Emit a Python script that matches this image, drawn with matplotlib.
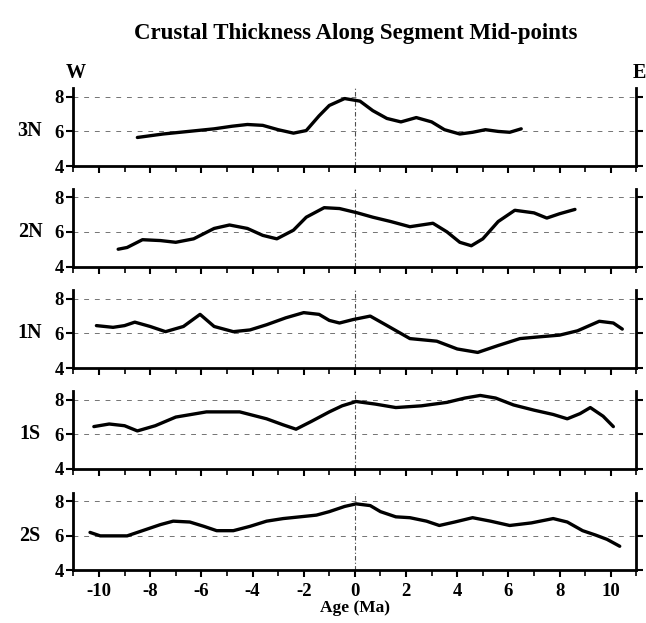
import matplotlib.pyplot as plt
from matplotlib.ticker import MultipleLocator

plt.rcParams['font.family'] = ['Liberation Serif', 'DejaVu Serif']
plt.rcParams['font.weight'] = 'bold'
plt.rcParams['axes.unicode_minus'] = False

# -----------------------------
# DATA (age in Ma, crustal thickness in km)
# -----------------------------
segments = ['3N', '2N', '1N', '1S', '2S']

age_3n = [-8.5, -7.5, -6.5, -5.5, -4.8, -4.2, -3.6, -3.0, -2.4, -1.9, -1.4, -1.0, -0.4, 0.2, 0.7,
          1.25, 1.8, 2.4, 3.0, 3.5, 4.1, 4.6, 5.1, 5.6, 6.05, 6.5]
thk_3n = [5.65, 5.85, 6.0, 6.15, 6.3, 6.4, 6.35, 6.1, 5.9, 6.05, 6.9, 7.5, 7.9, 7.75, 7.2,
          6.75, 6.55, 6.8, 6.55, 6.1, 5.85, 5.95, 6.1, 6.0, 5.95, 6.15]

age_2n = [-9.25, -8.9, -8.3, -7.6, -7.0, -6.3, -5.5, -4.9, -4.2, -3.6, -3.05, -2.4, -1.9, -1.2,
          -0.6, 0.1, 0.7, 1.4, 2.15, 3.05, 3.6, 4.1, 4.55, 5.0, 5.6, 6.25, 7.0, 7.5, 8.0, 8.6]
thk_2n = [5.0, 5.1, 5.55, 5.5, 5.4, 5.6, 6.2, 6.4, 6.2, 5.8, 5.6, 6.1, 6.85, 7.4,
          7.35, 7.1, 6.85, 6.6, 6.3, 6.5, 6.0, 5.4, 5.2, 5.6, 6.6, 7.25, 7.1, 6.8, 7.05, 7.3]

age_1n = [-10.1, -9.45, -9.0, -8.6, -8.0, -7.4, -6.7, -6.05, -5.5, -4.75, -4.1, -3.45, -2.7, -2.0,
          -1.4, -1.0, -0.6, -0.07, 0.6, 1.2, 2.15, 3.2, 4.0, 4.8, 5.6, 6.45, 7.2, 8.0, 8.7, 9.55,
          10.1, 10.45]
thk_1n = [6.45, 6.35, 6.45, 6.65, 6.4, 6.1, 6.4, 7.1, 6.4, 6.1, 6.2, 6.5, 6.9, 7.2,
          7.1, 6.75, 6.6, 6.8, 7.0, 6.5, 5.7, 5.55, 5.1, 4.9, 5.3, 5.7, 5.8, 5.9, 6.15, 6.7,
          6.6, 6.25]

age_1s = [-10.2, -9.6, -9.0, -8.5, -7.8, -7.0, -5.8, -4.5, -3.45, -2.8, -2.3, -1.7, -1.0, -0.5,
          0.05, 0.8, 1.6, 2.6, 3.6, 4.3, 4.9, 5.5, 6.2, 7.0, 7.75, 8.3, 8.8, 9.2, 9.7, 10.1]
thk_1s = [6.45, 6.6, 6.5, 6.2, 6.5, 7.0, 7.3, 7.3, 6.9, 6.55, 6.3, 6.75, 7.3, 7.65,
          7.9, 7.75, 7.55, 7.65, 7.85, 8.1, 8.25, 8.1, 7.7, 7.4, 7.15, 6.9, 7.2, 7.55, 7.05, 6.45]

age_2s = [-10.35, -9.95, -8.9, -8.3, -7.6, -7.1, -6.45, -5.9, -5.4, -4.75, -4.1, -3.45, -2.8,
          -2.15, -1.5, -1.0, -0.4, 0.05, 0.6, 1.0, 1.6, 2.15, 2.8, 3.3, 3.9, 4.6, 5.3, 6.05,
          6.9, 7.75, 8.3, 8.9, 9.4, 9.85, 10.35]
thk_2s = [6.2, 6.0, 6.0, 6.3, 6.65, 6.85, 6.8, 6.55, 6.3, 6.3, 6.55, 6.85, 7.0,
          7.1, 7.2, 7.4, 7.7, 7.85, 7.75, 7.4, 7.1, 7.05, 6.85, 6.6, 6.8, 7.05, 6.85, 6.6,
          6.75, 7.0, 6.8, 6.3, 6.05, 5.8, 5.4]

ages = [age_3n, age_2n, age_1n, age_1s, age_2s]
thks = [thk_3n, thk_2n, thk_1n, thk_1s, thk_2s]

yticks = [4, 6, 8]
xticks = [-10, -8, -6, -4, -2, 0, 2, 4, 6, 8, 10]

# -----------------------------
# FIGURE
# -----------------------------
fig = plt.figure(figsize=(6.46, 6.23), dpi=100)

bottoms = [0.7335, 0.5722, 0.4093, 0.2472, 0.0843]
for i, seg in enumerate(segments):
    ax = fig.add_axes([0.1136, bottoms[i], 0.8715, 0.125])
    ax.set_xlim(-11, 11)
    ax.set_ylim(4, 8.5)

    # faint reference lines
    for yy in [6, 8]:
        ax.axhline(yy, color='0.45', lw=0.7, ls=(0, (5, 6)), zorder=1)
    ax.axvline(0, color='0.3', lw=0.8, ls=(0, (4, 2, 1, 2)), zorder=1)

    ax.plot(ages[i], thks[i], color='black', lw=2.4, solid_joinstyle='round',
            solid_capstyle='round', zorder=3)

    ax.spines['top'].set_visible(False)
    for s in ['left', 'bottom', 'right']:
        ax.spines[s].set_linewidth(2)

    ax.set_yticks(yticks)
    ax.set_xticks(xticks)
    ax.xaxis.set_minor_locator(MultipleLocator(1))
    ax.tick_params(axis='y', which='both', direction='out', length=5, width=1.5,
                   labelsize=13.5, right=True, labelright=False, pad=2)
    ax.tick_params(axis='x', which='both', direction='out', length=5, width=1.5,
                   labelsize=13.5, pad=4)
    ax.tick_params(axis='x', which='minor', length=4, width=1.2)
    if i < len(segments) - 1:
        ax.set_xticklabels([])
    else:
        ax.set_xlabel('Age (Ma)', fontsize=12.5, fontweight='bold', labelpad=0)

    ax.text(-0.077, 2 / 4.5, seg, transform=ax.transAxes, fontsize=14.5,
            fontweight='bold', ha='center', va='center')

fig.text(0.55, 0.947, 'Crustal Thickness Along Segment Mid-points',
         ha='center', va='center', fontsize=16.5, fontweight='bold')
fig.text(0.117, 0.883, 'W', ha='center', va='center', fontsize=14.5, fontweight='bold')
fig.text(0.99, 0.883, 'E', ha='center', va='center', fontsize=14.5, fontweight='bold')

plt.savefig('out.png', dpi=100)
